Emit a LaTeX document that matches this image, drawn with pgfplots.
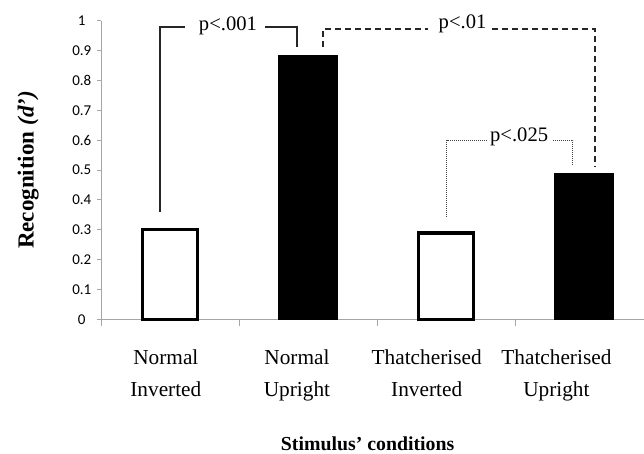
\documentclass[border=0pt]{standalone}
\usepackage{pgfplots}
\pgfplotsset{compat=1.18}
\usepackage{fontspec}
\setmainfont{Liberation Serif}
\newfontfamily\carlito{Carlito}
\definecolor{axgray}{HTML}{A6A6A6}
\begin{document}
\begin{tikzpicture}
\path[use as bounding box] (-101pt,-133.7pt) rectangle (543pt,319.3pt);
\begin{axis}[
  at={(0,0)}, anchor=south west,
  scale only axis, width=543pt, height=298.6pt,
  xmin=-0.5, xmax=3.435, ymin=0, ymax=1,
  axis x line*=bottom, axis y line*=left,
  axis line style={draw=axgray, line width=0.9pt},
  tick align=outside,
  major tick length=4pt,
  ytick={0,0.1,0.2,0.3,0.4,0.5,0.6,0.7,0.8,0.9,1},
  yticklabels={0,0.1,0.2,0.3,0.4,0.5,0.6,0.7,0.8,0.9,1},
  yticklabel style={font=\carlito\fontsize{15}{16}\selectfont, text width=22pt, align=center, inner sep=0pt, xshift=-4pt},
  ytick style={draw=axgray, line width=0.9pt},
  /pgf/number format/assume math mode=true,
  xtick={-0.03,0.92,1.86,2.80},
  xticklabels={Normal\\Inverted, Normal\\Upright, Thatcherised\\Inverted, Thatcherised\\Upright},
  xticklabel style={align=center, font=\fontsize{21.3}{31.5}\selectfont, anchor=north, inner sep=0pt, yshift=-26.5pt},
  xtick style={draw=none},
  extra x ticks={-0.5,0.5,1.5,2.5},
  extra x tick labels={},
  extra x tick style={major tick length=7pt, xtick style={draw=axgray, line width=0.9pt}},
  every axis y label/.style={at={(axis description cs:-0.134,0.5)}, rotate=90, anchor=center, font=\bfseries\fontsize{23}{26}\selectfont},
  ylabel={Recognition {\itshape (d’)}},
  every axis x label/.style={at={(axis description cs:0.491,-0.4377)}, anchor=base, font=\bfseries\fontsize{19.8}{22}\selectfont},
  xlabel={Stimulus’ conditions},
  clip=false,
]
% white bars
\addplot[ybar, bar width=54.5pt, fill=white, draw=black, line width=3.2pt, bar shift=0pt]
  coordinates {(0,0.302) (2,0.289)};
% black bars
\addplot[ybar, bar width=58.5pt, fill=black, draw=black, line width=0.5pt, bar shift=0pt]
  coordinates {(1,0.885) (3,0.488)};
% p<.001 (solid)
\addplot[black!85, line width=1.3pt, mark=none] coordinates {(-0.072,0.359) (-0.072,0.979) (0.109,0.979)};
\addplot[black!85, line width=1.3pt, mark=none] coordinates {(0.688,0.979) (0.92,0.979) (0.92,0.912)};
\node[anchor=base, inner sep=0pt, font=\fontsize{20.6}{24}\selectfont] at (axis cs:0.42,0.9665) {p<.001};
% p<.01 (dashed)
\addplot[black!85, line width=1.3pt, dash pattern=on 6pt off 4pt, mark=none] coordinates {(1.109,0.912) (1.109,0.972) (1.87,0.972)};
\addplot[black!85, line width=1.3pt, dash pattern=on 6pt off 4pt, mark=none] coordinates {(2.333,0.972) (3.08,0.972) (3.08,0.51)};
\node[anchor=base, inner sep=0pt, font=\fontsize{20.6}{24}\selectfont] at (axis cs:2.12,0.9745) {p<.01};
% p<.025 (dotted)
\addplot[black!75, line width=1pt, dash pattern=on 1pt off 1pt, mark=none] coordinates {(2.007,0.343) (2.007,0.600) (2.297,0.600)};
\addplot[black!75, line width=1pt, dash pattern=on 1pt off 1pt, mark=none] coordinates {(2.775,0.600) (2.92,0.600) (2.92,0.513)};
\node[anchor=base, inner sep=0pt, font=\fontsize{20.6}{24}\selectfont] at (axis cs:2.53,0.5948) {p<.025};
\end{axis}
\end{tikzpicture}
\end{document}
